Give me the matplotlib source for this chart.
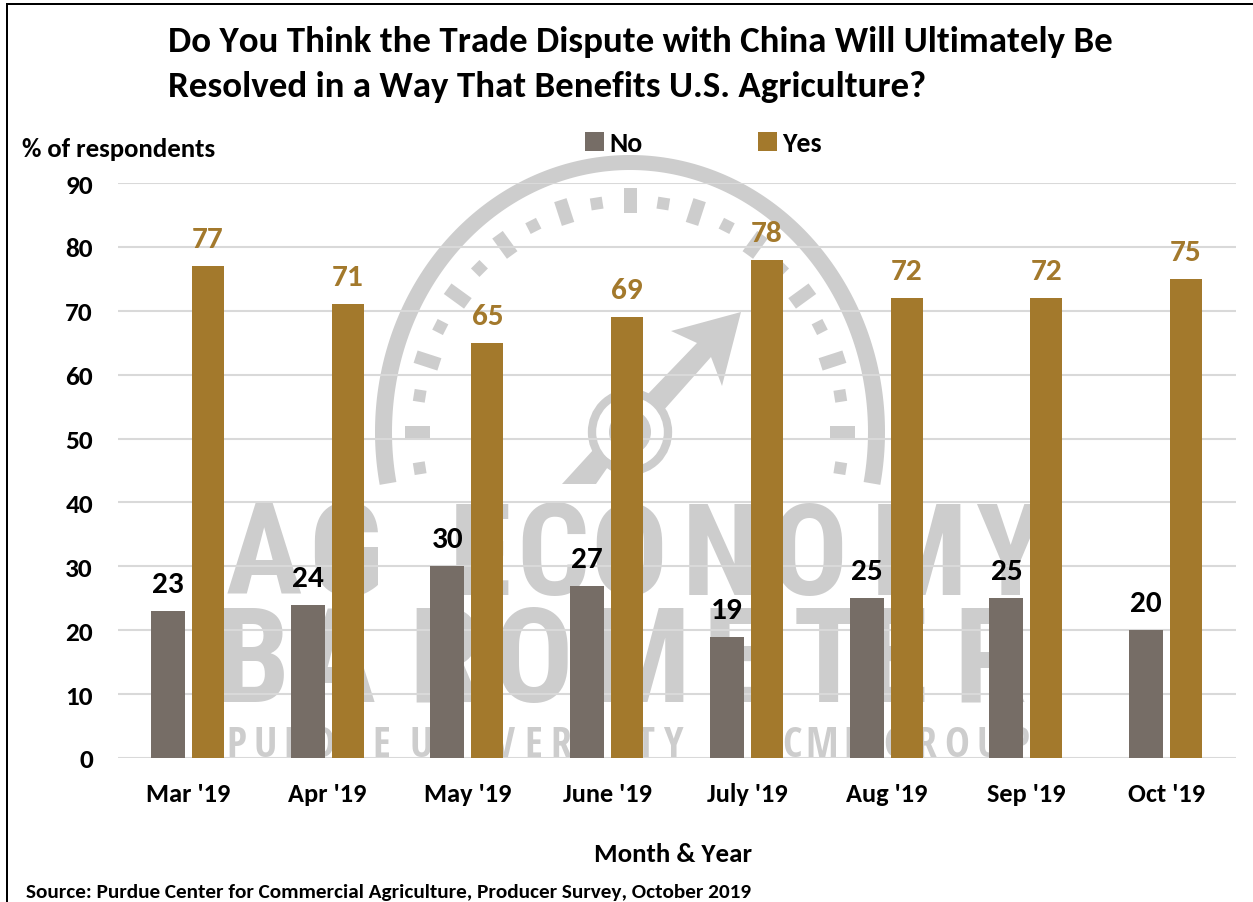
#!/usr/bin/env python3.12
"""Survey bar chart: trade dispute outcome and U.S. agriculture, with gauge watermark."""
import numpy as np
import matplotlib
matplotlib.use("Agg")
import matplotlib.pyplot as plt
from matplotlib.patches import Ellipse, Polygon, Rectangle

months = ["Mar '19", "Apr '19", "May '19", "June '19", "July '19", "Aug '19", "Sep '19", "Oct '19"]
no_pct = [23, 24, 30, 27, 19, 25, 25, 20]
yes_pct = [77, 71, 65, 69, 78, 72, 72, 75]
y_ticks = [0, 10, 20, 30, 40, 50, 60, 70, 80, 90]

W, H = 1253, 903
NO_COLOR = "#766D66"
YES_COLOR = "#A3792C"
GRID = "#D9D9D9"
MARK = "#CDCDCD"
FONT = ["Carlito", "Lato", "DejaVu Sans"]
MARK_FONT = ["Roboto Condensed", "Liberation Sans"]
SMALL_MARK_FONT = ["Open Sans Condensed", "Liberation Sans"]

plt.rcParams["font.family"] = FONT
fig = plt.figure(figsize=(W / 100, H / 100), dpi=100, facecolor="white")

# Background layer in pixel units for the watermark and the page border
bg = fig.add_axes([0, 0, 1, 1], zorder=0)
bg.set_xlim(0, W)
bg.set_ylim(H, 0)
bg.axis("off")

bg.add_patch(Rectangle((6, 4), 2, H, color="black", lw=0))
bg.add_patch(Rectangle((6, 4), W, 2, color="black", lw=0))

# Gauge dial
cx, cy = 630, 433
rx, ry = 255, 277
t = np.radians(np.linspace(-101, 101, 200))
outer = np.column_stack([cx + rx * np.sin(t), cy - ry * np.cos(t)])
inner = np.column_stack([cx + (rx - 17) * np.sin(t), cy - (ry - 15) * np.cos(t)])
bg.add_patch(Polygon(np.vstack([outer, inner[::-1]]), color=MARK, lw=0))


def dial_tick(deg, length, width):
    a = np.radians(deg)
    r = 0.835
    c = np.array([cx + rx * r * np.sin(a), cy - ry * r * np.cos(a)])
    along = np.array([np.sin(a), -np.cos(a)])
    across = np.array([np.cos(a), np.sin(a)])
    pts = [c + along * length / 2 * i + across * width / 2 * j
           for i, j in [(1, 1), (1, -1), (-1, -1), (-1, 1)]]
    bg.add_patch(Polygon(pts, color=MARK, lw=0))


for deg in range(-99, 100, 9):
    if deg % 18 == 0:
        dial_tick(deg, 25, 13)
    else:
        dial_tick(deg, 12, 12)

# Needle and hub
bg.add_patch(Polygon([(741, 313), (671, 332), (697, 344), (646, 397), (663, 412),
                      (711, 358), (722, 387)], color=MARK, lw=0))
bg.add_patch(Polygon([(562, 485), (596, 485), (612, 462), (594, 450)], color=MARK, lw=0))
bg.add_patch(Ellipse((cx, cy), 76, 78, facecolor="none", edgecolor=MARK, lw=6))
bg.add_patch(Ellipse((cx, cy), 42, 44, color=MARK, lw=0))

# Watermark lettering, placed letter by letter
for ch, x in zip("AGECONOMY", [264, 345, 480, 553, 629, 721, 809, 919, 1010]):
    bg.text(x, 595, ch, fontsize=92, fontweight="bold", family=MARK_FONT, color=MARK,
            ha="center", va="baseline")
for ch, x in zip("BAROMETER", [253, 336, 445, 534, 640, 735, 828, 895, 990]):
    bg.text(x, 702, ch, fontsize=95, fontweight="bold", family=MARK_FONT, color=MARK,
            ha="center", va="baseline")
for ch, x in zip("PURDUEUNIVERSITYCMEGROUP",
                 [236, 265, 294, 323, 352, 381, 421, 449, 477, 505, 533, 561, 589, 617, 645, 673,
                  792, 822, 852, 895, 926, 957, 988, 1019]):
    bg.text(x, 757, ch, fontsize=30, fontweight="bold", family=SMALL_MARK_FONT, color=MARK,
            ha="center", va="baseline")

# Bars
ax = fig.add_axes([118 / W, 1 - 759 / H, (1236 - 118) / W, (759 - 184) / H], zorder=1)
ax.patch.set_alpha(0)
x = np.arange(len(months))
offset = 0.143
bars_no = ax.bar(x - offset, no_pct, 0.243, color=NO_COLOR, zorder=3, label="No")
bars_yes = ax.bar(x + offset, yes_pct, 0.229, color=YES_COLOR, zorder=3, label="Yes")

ax.bar_label(bars_no, labels=[str(v) for v in no_pct], padding=10, fontsize=22.5,
             fontweight="bold", color="black")
ax.bar_label(bars_yes, labels=[str(v) for v in yes_pct], padding=10, fontsize=22.5,
             fontweight="bold", color=YES_COLOR)

ax.set_xlim(-0.5, 7.5)
ax.set_ylim(0, 90)
ax.set_yticks(y_ticks)
ax.set_xticks(x)
ax.set_xticklabels(months)
ax.tick_params(axis="y", length=0, pad=18, labelsize=19.6, labelcolor="black")
ax.tick_params(axis="x", length=0, pad=17, labelsize=19, labelcolor="black")
for lab in ax.get_xticklabels() + ax.get_yticklabels():
    lab.set_fontweight("bold")
ax.grid(axis="y", color=GRID, lw=1.5, zorder=1)
ax.set_axisbelow(True)
for s in ax.spines.values():
    s.set_visible(False)

leg = ax.legend(loc="center left", bbox_to_anchor=(467 / 1118, 1.0695), ncol=2, frameon=False,
                columnspacing=4.15, handlelength=0.68, handleheight=0.68, handletextpad=0.2,
                prop={"family": FONT, "weight": "bold", "size": 20}, borderpad=0, borderaxespad=0)

title_kw = dict(fontsize=26.6, fontweight="bold", color="black", va="baseline")
bg.text(168, 52, "Do You Think the Trade Dispute with China Will Ultimately Be", **title_kw)
bg.text(168, 97, "Resolved in a Way That Benefits U.S. Agriculture?", **title_kw)
bg.text(22, 157, "% of respondents", fontsize=19.3, fontweight="bold", color="black", va="baseline")
bg.text(673, 862, "Month & Year", fontsize=19.4, fontweight="bold", color="black",
        ha="center", va="baseline")
bg.text(26, 898, "Source: Purdue Center for Commercial Agriculture, Producer Survey, October 2019",
        fontsize=15.3, fontweight="bold", color="black", va="baseline")

fig.savefig("out.png", dpi=100, facecolor="white")
plt.close(fig)
